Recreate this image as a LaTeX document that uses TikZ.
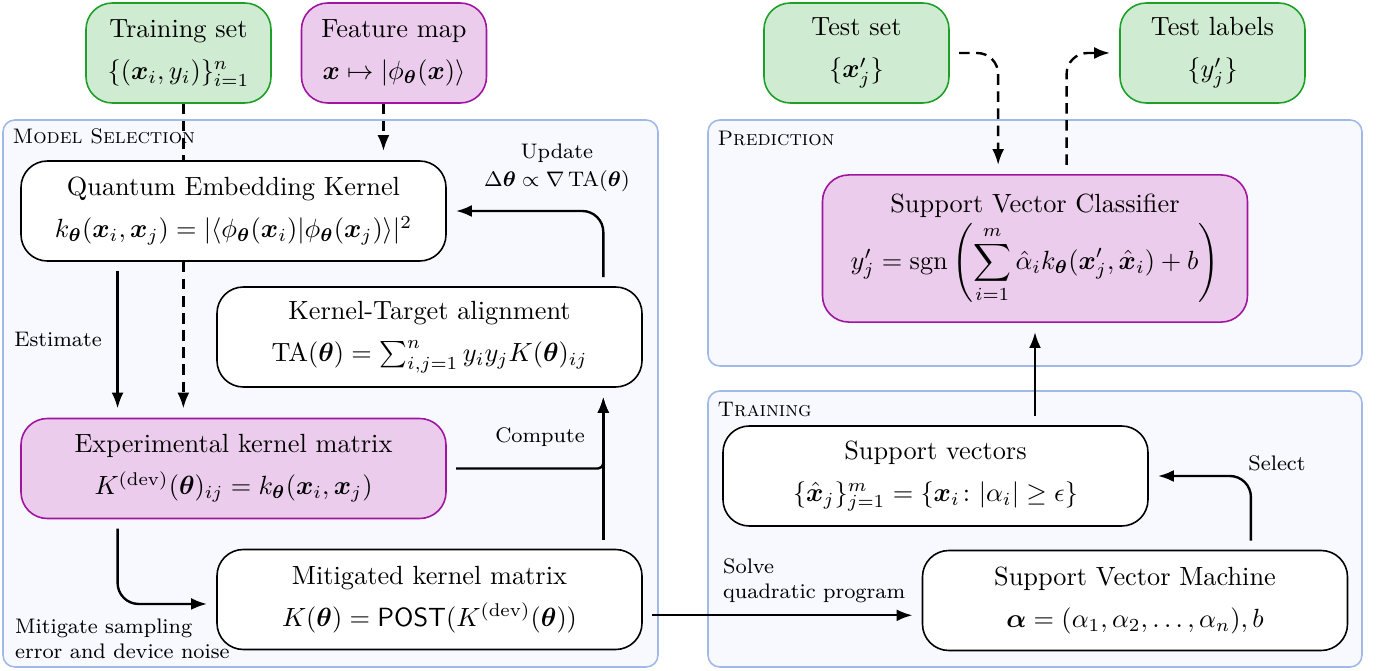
\documentclass[tikz,border=0pt]{standalone}
\usepackage{amsmath,amssymb,bm}
\usetikzlibrary{positioning,arrows.meta}

\definecolor{datafill}{RGB}{207,236,210}
\definecolor{dataline}{RGB}{30,160,40}
\definecolor{quantfill}{RGB}{236,204,236}
\definecolor{quantline}{RGB}{160,20,160}
\definecolor{stageline}{RGB}{160,185,230}
\definecolor{stagefill}{RGB}{248,249,255}

\begin{document}
\begin{tikzpicture}[x=0.38pt, y=-0.38pt,
    stage/.style={draw=stageline, fill=stagefill, rounded corners=4.5pt, line width=0.6pt},
    stagetitle/.style={anchor=west, font=\footnotesize\scshape, inner sep=0pt},
    block/.style={draw, fill=white, rounded corners=10pt, align=center, semithick,
      minimum width=161.5pt, minimum height=38pt, inner sep=2pt},
    quant/.style={block, draw=quantline, fill=quantfill},
    data/.style={block, draw=dataline, fill=datafill, minimum width=70.3pt},
    note/.style={font=\footnotesize, align=center, inner sep=1pt},
    tip/.style={-{Latex[length=6pt,width=4.5pt]}},
    flow/.style={line width=0.9pt, tip, shorten >=3.5pt, shorten <=3.5pt},
    dataflow/.style={line width=0.9pt, dash pattern=on 4pt off 2.5pt}
  ]
  \useasboundingbox (0,0) rectangle (1380,671);
  % stages
  \draw[stage] (3,120) rectangle (658,667);
  \draw[stage] (708,120) rectangle (1362,366);
  \draw[stage] (708,391) rectangle (1362,667);
  \node[stagetitle] (seltitle) at (12,136) {Model Selection};
  \node[stagetitle] (predtitle) at (717,138) {Prediction};
  \node[stagetitle] (traintitle) at (717,410) {Training};
  % inputs and outputs
  \node[data] (train) at (178.5,53) {Training set\\[4pt] $\{(\bm{x}_i, y_i)\}_{i=1}^n$};
  \node[quant, minimum width=70.3pt] (feat) at (394,53) {Feature map\\[4pt] $\bm{x} \mapsto |\phi_{\bm{\theta}}(\bm{x})\rangle$};
  \node[data] (testset) at (856.5,53) {Test set\\[4pt] $\{\bm{x}'_j\}$};
  \node[data] (testlab) at (1212.5,53) {Test labels\\[4pt] $\{y'_j\}$};
  % model selection
  \node[block] (qek) at (233.5,211) {Quantum Embedding Kernel\\[4pt]
    $k_{\bm{\theta}}(\bm{x}_i, \bm{x}_j) = |\langle \phi_{\bm{\theta}}(\bm{x}_i) | \phi_{\bm{\theta}}(\bm{x}_j)\rangle|^2$};
  \node[block] (kta) at (429.5,337) {Kernel-Target alignment\\[4pt]
    $\mathrm{TA}(\bm{\theta}) = \sum_{i,j=1}^n y_i y_j K(\bm{\theta})_{ij}$};
  \node[quant] (exp) at (233.5,468.5) {Experimental kernel matrix\\[4pt]
    $K^{(\mathrm{dev})}(\bm{\theta})_{ij} = k_{\bm{\theta}}(\bm{x}_i, \bm{x}_j)$};
  \node[block] (mit) at (429.5,599.5) {Mitigated kernel matrix\\[4pt]
    $K(\bm{\theta}) = \mathsf{POST}(K^{(\mathrm{dev})}(\bm{\theta}))$};
  % training and prediction
  \node[quant, minimum height=55.9pt] (svc) at (1035,248.5) {Support Vector Classifier\\[1pt]
    $y'_j = \operatorname{sgn}\left(\displaystyle\sum_{i=1}^m \hat{\alpha}_i k_{\bm{\theta}}(\bm{x}'_j, \hat{\bm{x}}_i) + b\right)$};
  \node[block] (sv) at (935.5,476) {Support vectors\\[4pt]
    $\{\hat{\bm{x}}_j\}_{j=1}^m = \{\bm{x}_i \colon |\alpha_i| \geq \epsilon\}$};
  \node[block] (svm) at (1135,600.5) {Support Vector Machine\\[4pt]
    $\bm{\alpha} = (\alpha_1, \alpha_2, \ldots, \alpha_n), b$};
  % columns of the connectors
  \coordinate (datacol) at ([xshift=62pt]qek.north west);
  \coordinate (featcol) at ([xshift=-4pt]feat.south);
  \coordinate (estcol) at ([xshift=37pt]qek.south west);
  \coordinate (ktain) at ([xshift=-15pt]kta.south east);
  \coordinate (solveout) at ([yshift=-6pt]mit.east);
  \coordinate (selcol) at ([xshift=-37pt]svm.north east);
  \coordinate (incol) at ([xshift=-14pt]svc.north);
  \coordinate (outcol) at ([xshift=12pt]svc.north);
  % data into the kernel
  \draw[dataflow] (datacol |- train.south) -- (datacol |- qek.north);
  \draw[dataflow, tip, shorten >=3.5pt] (datacol |- qek.south) -- (datacol |- exp.north);
  \draw[dataflow, tip, shorten >=3.5pt] (featcol) -- (featcol |- qek.north);
  % optimisation loop
  \draw[flow] (estcol) -- (estcol |- exp.north);
  \draw[flow, rounded corners=8pt] (estcol |- exp.south) |- ([yshift=-1.7pt]mit.west);
  \draw[flow, rounded corners=2pt] (exp.east) -| (ktain);
  \draw[flow] (mit.north -| ktain) -- (ktain);
  \draw[flow, rounded corners=8pt] (kta.north -| ktain) |- (qek.east);
  % training and prediction
  \draw[flow] (solveout) -- (solveout -| svm.west);
  \draw[flow, rounded corners=8pt] (selcol) |- (sv.east);
  \draw[flow] (svc.south |- sv.north) -- (svc.south);
  \draw[dataflow, tip, shorten >=3.5pt, shorten <=3.5pt, rounded corners=8pt] (testset.east) -| (incol);
  \draw[dataflow, tip, shorten >=3.5pt, shorten <=3.5pt, rounded corners=8pt] (outcol) |- (testlab.west);
  % labels
  \node[note] (estlabel) at (58,339) {Estimate};
  \node[note, align=left, anchor=south west] (mitlabel) at (12,662) {Mitigate sampling\\error and device noise};
  \node[note] (complabel) at (540,437) {Compute};
  \node[note] (updlabel) at (557,168) {Update\\[1pt] $\Delta\bm{\theta} \propto \nabla\,\mathrm{TA}(\bm{\theta})$};
  \node[note, align=left, anchor=south west] (solvelabel) at (720,606) {Solve\\quadratic program};
  \node[note] (sellabel) at (1277,463) {Select};
\end{tikzpicture}
\end{document}
